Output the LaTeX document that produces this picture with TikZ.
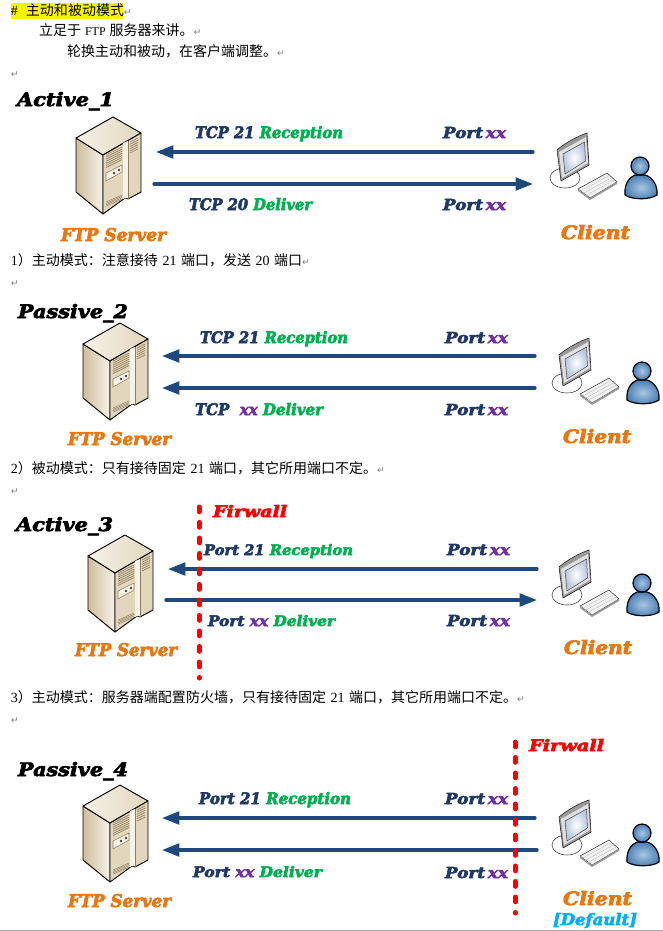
\documentclass[tikz,border=0pt]{standalone}
\usepackage{fontspec}
\usepackage{graphicx}
\usetikzlibrary{arrows.meta}
\newfontfamily\cjkf{Noto Sans CJK SC}
\newfontfamily\monof{Liberation Serif}
\newfontfamily\markf{DejaVu Sans}
\newfontfamily\wlf[FakeBold=3.5]{DejaVu Serif}
\definecolor{navy}{HTML}{1F3864}
\definecolor{arrowblue}{HTML}{1F497D}
\definecolor{lgreen}{HTML}{00B050}
\definecolor{lpurple}{HTML}{7030A0}
\definecolor{lorange}{HTML}{E9760F}
\definecolor{lcyan}{HTML}{00B0F0}
\definecolor{srv1}{HTML}{F7F2E8}
\definecolor{srv2}{HTML}{CDBD9B}
\definecolor{srv3}{HTML}{E2D6BD}
\definecolor{srv4}{HTML}{8F7E5E}
\definecolor{pb1}{HTML}{A9C6E2}
\definecolor{pb2}{HTML}{4A7FB3}
\definecolor{scr}{HTML}{B8C6DE}
\newlength\pxu \pxu=.75pt
\newcommand{\lb}[3]{\resizebox{#1\pxu}{#2\pxu}{\wlf\bfseries\itshape #3}}
\newcommand{\nv}[1]{\textcolor{navy}{#1}}
\newcommand{\gr}[1]{\textcolor{lgreen}{#1}}
\newcommand{\pu}[1]{\textcolor{lpurple}{#1}}
\newcommand{\m}[1]{\hspace{3.4pt}{\monof\fontsize{10.5pt}{12pt}\selectfont #1}\hspace{3.4pt}}
\newcommand{\rt}{{\markf\fontsize{7pt}{8pt}\selectfont\textcolor{gray}{↵}}}
\newcommand{\portxx}{\lb{63}{11}{\nv{Port}\,\pu{xx}}}
\tikzset{
  x=.75pt,y=-.75pt,
  lbl/.style={anchor=base west,inner sep=0pt,outer sep=0pt},
  body/.style={lbl,font=\cjkf\fontsize{10.5pt}{12pt}\selectfont},
  flow/.style={draw=arrowblue,line width=2.4pt,line cap=round},
  head/.style={-{Triangle[length=13pt,width=9.5pt]}},
  wall/.style={draw=red,line width=3.75pt,line cap=round,dash pattern=on 3.6pt off 8.025pt},
  serv/.pic={
    \shade[left color=srv2,right color=srv1,draw=black,line width=.7pt,line join=round]
       (0,21)--(27,38)--(27,97)--(0,75)--cycle;
    \shade[left color=srv1,right color=srv3,draw=black,line width=.7pt,line join=round]
       (37,0)--(65,16)--(27,38)--(0,21)--cycle;
    \fill[srv3,draw=black,line width=.7pt,line join=round]
       (27,38)--(65,16)--(65,75)--(52,82)--(49,81)--(27,97)--cycle;
    \fill[srv1] (47,26)--(52,24)--(52,81)--(49,81)--(47,82)--cycle;
    \draw[srv4,line width=.3pt] (52,24)--(52,82);
    \foreach \i in {0,...,6}{\draw[srv4,line width=.5pt] (30,38+\i*2.1)--(46,30+\i*2.1);}
    \foreach \i in {0,...,5}{\draw[srv4,line width=.5pt] (54,25+\i*2.2)--(62,21+\i*2.2);}
    \fill[srv1,draw=srv4,line width=.4pt] (30,56)--(46,48)--(46,55)--(30,64)--cycle;
    \fill[black!75] (38,56) circle[radius=1.4];
    \fill[black!75] (43,53) circle[radius=1.4];
    \foreach \i in {0,...,3}{\draw[srv4,line width=.35pt] (30,85+\i*1.4)--(46,78+\i*1.4);}
  },
  cli/.pic={
    \fill[white,draw=black!80,line width=.4pt] (15,45) ellipse[x radius=15,y radius=10];
    \fill[black!40,draw=black!85,line width=.45pt,line join=round]
       (7,17) .. controls (15,10) and (28,3) .. (37,0) -- (39,32)--(11,48)--cycle;
    \fill[black!12,line join=round] (9,19)--(36,4)--(38,30)--(12,45)--cycle;
    \shade[inner color=white,outer color=scr,draw=black!70,line width=.4pt]
       (13,21)--(34.5,9)--(35.5,28)--(15,41)--cycle;
    \fill[black!5,draw=black!80,line width=.4pt,line join=round] (28,56)--(57,40)--(67,49)--(40,65)--cycle;
    \fill[black!40] (28,56)--(40,65)--(67,49)--(67,51)--(40,67)--(28,58)--cycle;
    \foreach \i in {1,2,3}{\draw[black!25,line width=.3pt] (28+\i*2.5,56+\i*2.25)--(57+\i*2.5,40+\i*2.25);}
    \shade[inner color=pb1,outer color=pb2,draw=black,line width=.9pt,line join=round]
       (75,62) .. controls (74,50) and (80,44) .. (85,42)
       -- (95,42) .. controls (102,44) and (108,52) .. (107,62)
       .. controls (100,67) and (82,67) .. (75,62) -- cycle;
    \shade[inner color=pb1,outer color=pb2,draw=black,line width=.9pt]
       (90,33) circle[radius=9];
  }
}
\begin{document}
\begin{tikzpicture}
\useasboundingbox[fill=white] (0,0) rectangle (663,931);
% heading text
\fill[yellow] (11,3) rectangle (123,19);
\node[body] (t1) at (11,16) {{\monof\#}\hspace{6pt}主动和被动模式\rt};
\node[body] (t2) at (39,36) {立足于\hspace{3pt}{\monof\fontsize{9pt}{10pt}\selectfont FTP}\hspace{3pt}服务器来讲。\rt};
\node[body] (t3) at (67,57) {轮换主动和被动，在客户端调整。\rt};
\node[lbl] (t4) at (11,78) {\rt};
% Active_1
\node[lbl] (a1) at (17,106) {\lb{97}{14}{Active\_1}};
\pic (a1s) at (76,117) {serv};
\pic (a1c) at (550,133) {cli};
\coordinate (a1tl) at (156,152); \coordinate (a1tr) at (533,152);
\coordinate (a1bl) at (154,184); \coordinate (a1br) at (533,184);
\draw[flow,head] (a1tr)--(a1tl);
\draw[flow,head] (a1bl)--(a1br);
\node[lbl] (a1u) at (195,138) {\lb{148}{12}{\nv{TCP 21} \gr{Reception}}};
\node[lbl] (a1p) at (443,138) {\portxx};
\node[lbl] (a1d) at (189,210) {\lb{123}{12}{\nv{TCP 20} \gr{Deliver}}};
\node[lbl] (a1q) at (443,210) {\portxx};
\node[lbl] (a1f) at (61,241) {\lb{105}{13}{\textcolor{lorange}{FTP Server}}};
\node[lbl] (a1k) at (561,239) {\lb{69}{14}{\textcolor{lorange}{Client}}};
\node[body] (c1) at (11,265) {{\monof 1}）主动模式：注意接待\m{21}端口，发送\m{20}端口\rt};
\node[lbl] (c1r) at (11,286) {\rt};
% Passive_2
\node[lbl] (p2) at (18,318) {\lb{110}{14}{Passive\_2}};
\pic (p2s) at (83,323) {serv};
\pic (p2c) at (552,338) {cli};
\coordinate (p2tl) at (162,356); \coordinate (p2tr) at (535,356);
\coordinate (p2bl) at (162,388); \coordinate (p2br) at (535,388);
\draw[flow,head] (p2tr)--(p2tl);
\draw[flow,head] (p2br)--(p2bl);
\node[lbl] (p2u) at (200,343) {\lb{148}{12}{\nv{TCP 21} \gr{Reception}}};
\node[lbl] (p2p) at (445,343) {\portxx};
\node[lbl] (p2d) at (195,415) {\lb{128}{12}{\nv{TCP}\ \ \pu{xx} \gr{Deliver}}};
\node[lbl] (p2q) at (445,415) {\portxx};
\node[lbl] (p2f) at (68,445) {\lb{103}{13}{\textcolor{lorange}{FTP Server}}};
\node[lbl] (p2k) at (563,443) {\lb{68}{14}{\textcolor{lorange}{Client}}};
\node[body] (c2) at (11,473) {{\monof 2}）被动模式：只有接待固定\m{21}端口，其它所用端口不定。\rt};
\node[lbl] (c2r) at (11,494) {\rt};
% Active_3
\node[lbl] (a3) at (16,531) {\lb{97}{14}{Active\_3}};
\pic (a3s) at (88,535) {serv};
\pic (a3c) at (552,550) {cli};
\coordinate (a3tl) at (168,569); \coordinate (a3tr) at (537,569);
\coordinate (a3bl) at (166,600); \coordinate (a3br) at (537,600);
\draw[flow,head] (a3tr)--(a3tl);
\draw[flow,head] (a3bl)--(a3br);
\coordinate (w3t) at (199,507); \coordinate (w3b) at (199,678);
\draw[wall] (w3t)--(w3b);
\node[lbl] (w3l) at (213,517) {\lb{74}{12}{\textcolor{red}{Firwall}}};
\node[lbl] (a3u) at (204,555) {\lb{149}{11}{\nv{Port 21} \gr{Reception}}};
\node[lbl] (a3p) at (447,555) {\portxx};
\node[lbl] (a3d) at (208,626) {\lb{127}{11}{\nv{Port} \pu{xx} \gr{Deliver}}};
\node[lbl] (a3q) at (447,626) {\portxx};
\node[lbl] (a3f) at (75,656) {\lb{102}{13}{\textcolor{lorange}{FTP Server}}};
\node[lbl] (a3k) at (564,654) {\lb{68}{14}{\textcolor{lorange}{Client}}};
\node[body] (c3) at (11,702) {{\monof 3}）主动模式：服务器端配置防火墙，只有接待固定\m{21}端口，其它所用端口不定。\rt};
\node[lbl] (c3r) at (11,723) {\rt};
% Passive_4
\node[lbl] (p4) at (18,776) {\lb{110}{14}{Passive\_4}};
\pic (p4s) at (83,785) {serv};
\pic (p4c) at (552,800) {cli};
\coordinate (p4tl) at (162,818); \coordinate (p4tr) at (535,818);
\coordinate (p4bl) at (162,850); \coordinate (p4br) at (537,850);
\draw[flow,head] (p4tr)--(p4tl);
\draw[flow,head] (p4br)--(p4bl);
\coordinate (w4t) at (515,742); \coordinate (w4b) at (515,913);
\draw[wall] (w4t)--(w4b);
\node[lbl] (w4l) at (529,751) {\lb{75}{12}{\textcolor{red}{Firwall}}};
\node[lbl] (p4u) at (199,804) {\lb{152}{12}{\nv{Port 21} \gr{Reception}}};
\node[lbl] (p4p) at (445,804) {\portxx};
\node[lbl] (p4d) at (193,877) {\lb{129}{11}{\nv{Port} \pu{xx} \gr{Deliver}}};
\node[lbl] (p4q) at (445,878) {\portxx};
\node[lbl] (p4f) at (68,907) {\lb{103}{13}{\textcolor{lorange}{FTP Server}}};
\node[lbl] (p4k) at (563,905) {\lb{69}{14}{\textcolor{lorange}{Client}}};
\node[lbl] (p4x) at (553,925) {\lb{84}{12}{\textcolor{lcyan}{[Default]}}};
% page edge
\fill[gray!70] (0,930) rectangle (663,931);
\end{tikzpicture}
\end{document}
